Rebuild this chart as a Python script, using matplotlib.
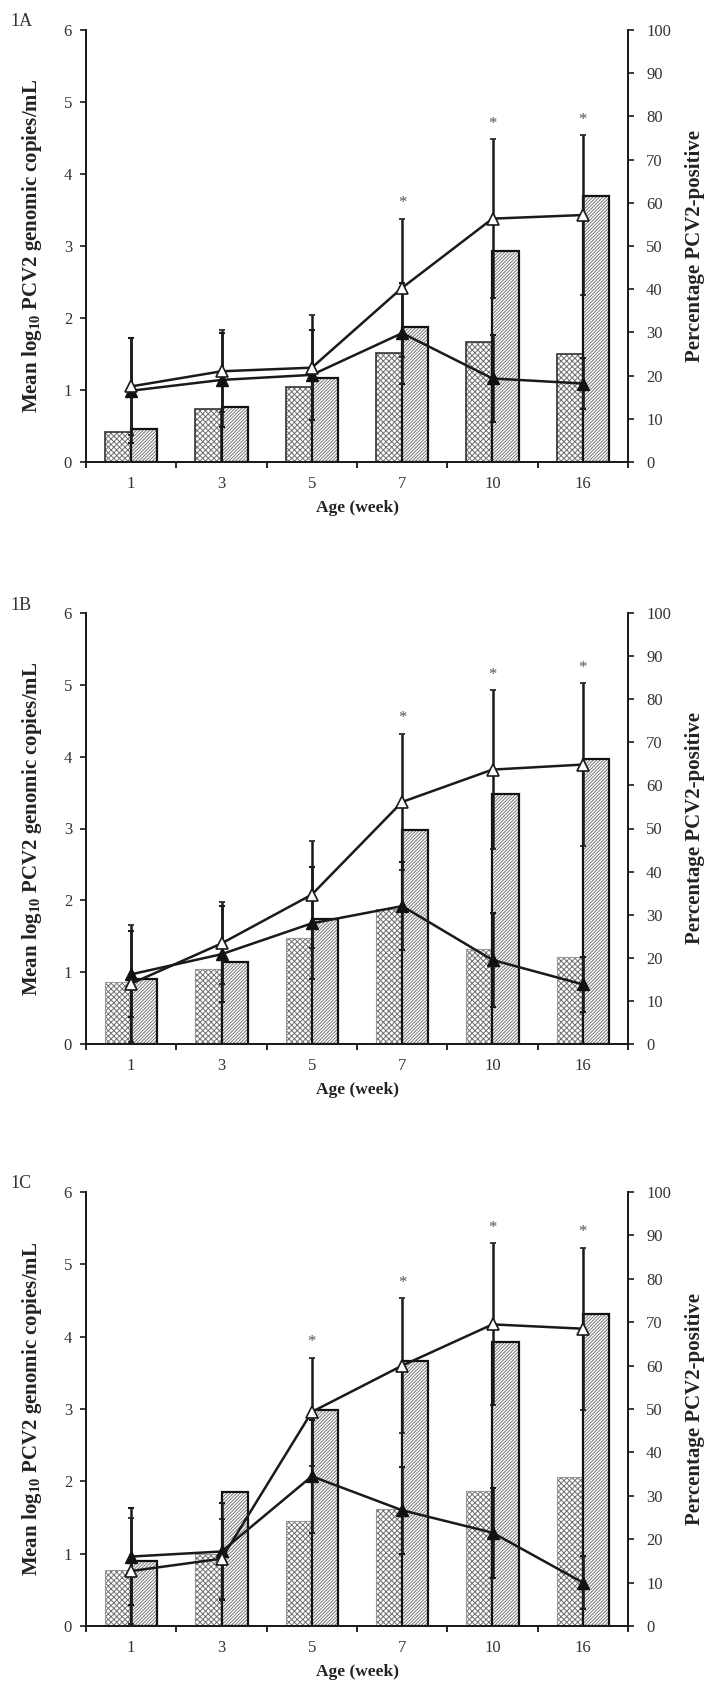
import matplotlib
matplotlib.use("Agg")
import matplotlib.pyplot as plt
import numpy as np

plt.rcParams['font.family'] = ['Liberation Serif', 'DejaVu Serif']
plt.rcParams['mathtext.fontset'] = 'custom'
plt.rcParams['mathtext.rm'] = 'Liberation Serif'
plt.rcParams['mathtext.bf'] = 'Liberation Serif:bold'
plt.rcParams['hatch.linewidth'] = 0.7

weeks = ['1', '3', '5', '7', '10', '16']

# bars: percentage PCV2-positive (right axis)
cross_a = [7.0, 12.2, 17.3, 25.2, 27.8, 25.1]
diag_a = [7.7, 12.7, 19.5, 31.2, 48.9, 61.6]
cross_b = [14.4, 17.4, 24.5, 31.3, 22.1, 20.2]
diag_b = [15.1, 19.1, 29.1, 49.6, 57.9, 66.1]
cross_c = [12.8, 16.5, 24.2, 27.0, 31.2, 34.3]
diag_c = [14.9, 30.9, 49.7, 61.1, 65.4, 71.8]

# lines: mean log10 copies/mL (left axis)
open_a = [1.05, 1.26, 1.31, 2.42, 3.38, 3.43]
open_err_a = [0.67, 0.57, 0.73, 0.96, 1.10, 1.11]
filled_a = [0.99, 1.14, 1.21, 1.79, 1.16, 1.09]
filled_err_a = [0.73, 0.65, 0.62, 0.70, 0.60, 0.35]

open_b = [0.84, 1.40, 2.08, 3.37, 3.82, 3.89]
open_err_b = [0.81, 0.57, 0.74, 0.95, 1.11, 1.13]
filled_b = [0.97, 1.25, 1.68, 1.92, 1.17, 0.83]
filled_err_b = [0.60, 0.67, 0.78, 0.61, 0.65, 0.38]

open_c = [0.76, 0.93, 2.96, 3.60, 4.17, 4.11]
open_err_c = [0.73, 0.55, 0.75, 0.93, 1.12, 1.12]
filled_c = [0.96, 1.03, 2.07, 1.60, 1.29, 0.60]
filled_err_c = [0.67, 0.67, 0.78, 0.60, 0.62, 0.37]

stars_a = [False, False, False, True, True, True]
stars_b = [False, False, False, True, True, True]
stars_c = [False, False, True, True, True, True]

fig = plt.figure(figsize=(7.07, 16.93), dpi=100)
W, H = 707, 1693


def panel(top_px, bottom_px, tag, cross, diag, op, op_err, fi, fi_err, stars, cross_edge):
    ax = fig.add_axes([86 / W, 1 - bottom_px / H, 542 / W, (bottom_px - top_px) / H])
    ax2 = ax.twinx()
    x = np.arange(len(weeks))
    bw = 0.29

    # bars on the percentage axis
    ax2.bar(x - bw / 2, cross, bw, color='white', edgecolor='#707070', hatch='xxxxxx', linewidth=0)
    ax2.bar(x - bw / 2, cross, bw, fill=False, edgecolor=cross_edge[0], linewidth=cross_edge[1])
    ax2.bar(x + bw / 2, diag, bw, color='white', edgecolor='#777777', hatch='//////////', linewidth=0)
    ax2.bar(x + bw / 2, diag, bw, fill=False, edgecolor='#111111', linewidth=1.6)
    ax2.set_ylim(0, 100)
    ax2.set_yticks(range(0, 101, 10))

    # lines with error bars on the log axis, drawn above the bars
    ax.set_zorder(ax2.get_zorder() + 1)
    ax.patch.set_visible(False)
    ax.errorbar(x, fi, yerr=fi_err, color='#1a1a1a', lw=1.8, marker='^', ms=9,
                mfc='#111111', mec='#111111', ecolor='#1a1a1a', elinewidth=1.8,
                capsize=2, capthick=1.5)
    ax.errorbar(x, op, yerr=op_err, color='#1a1a1a', lw=1.8, marker='^', ms=9,
                mfc='white', mec='#1a1a1a', mew=1.2, ecolor='#1a1a1a', elinewidth=1.8,
                capsize=2, capthick=1.5)
    for i in range(len(weeks)):
        if stars[i]:
            ax.text(x[i], op[i] + op_err[i] + 0.1, '*', ha='center', va='bottom',
                    fontsize=12, color='#555555')

    ax.set_xlim(-0.5, 5.5)
    ax.set_ylim(0, 6)
    ax.set_yticks(range(0, 7))
    ax.set_xticks(np.arange(-0.5, 6, 1))
    ax.set_xticklabels([])
    ax.set_xticks(x, minor=True)
    ax.set_xticklabels(weeks, minor=True)
    ax.tick_params(axis='x', which='minor', length=0, pad=10)
    ax.tick_params(axis='x', which='major', length=4, width=1.2, direction='out')

    for a in (ax, ax2):
        a.spines['top'].set_visible(False)
        for s in ('left', 'right', 'bottom'):
            a.spines[s].set_linewidth(1.3)
            a.spines[s].set_color('#1a1a1a')
    ax.tick_params(axis='y', length=4, width=1.2, labelsize=12, colors='#1a1a1a',
                   labelcolor='#333333', pad=6)
    ax.tick_params(axis='x', which='minor', labelsize=12, labelcolor='#333333')
    ax2.tick_params(axis='y', length=4, width=1.2, labelsize=12, colors='#1a1a1a',
                    labelcolor='#333333', pad=9)

    ax.set_xlabel('Age (week)', fontsize=12.5, fontweight='bold', color='#222222', labelpad=6)
    ax.set_ylabel(r'Mean log$_{\mathbf{10}}$ PCV2 genomic copies/mL', fontsize=15,
                  fontweight='bold', color='#222222', labelpad=14)
    ax2.set_ylabel('Percentage PCV2-positive', fontsize=15, fontweight='bold',
                   color='#222222', labelpad=10)
    fig.text(10 / W, 1 - (top_px - 8) / H, tag, fontsize=13, color='#333333',
             ha='left', va='center')


panel(30, 462, '1A', cross_a, diag_a, open_a, open_err_a, filled_a, filled_err_a,
      stars_a, ('#333333', 1.2))
panel(613, 1044, '1B', cross_b, diag_b, open_b, open_err_b, filled_b, filled_err_b,
      stars_b, ('#999999', 0.8))
panel(1192, 1626, '1C', cross_c, diag_c, open_c, open_err_c, filled_c, filled_err_c,
      stars_c, ('#999999', 0.8))

fig.savefig('out.png', dpi=100)
